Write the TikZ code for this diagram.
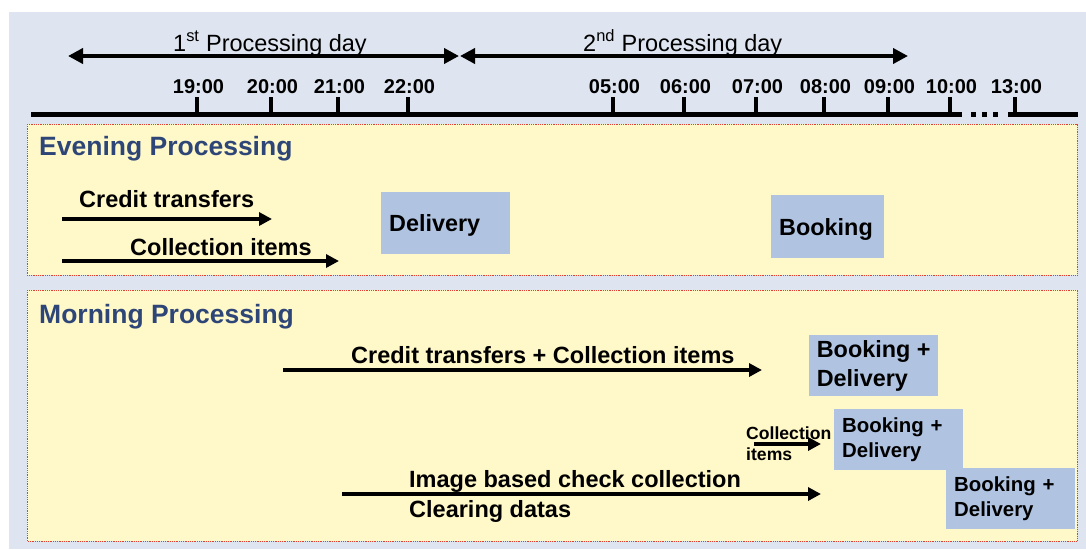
\documentclass[tikz,border=0pt]{standalone}
\usepackage{fontspec}
\setmainfont{Liberation Sans}
\usetikzlibrary{arrows.meta}
\definecolor{bgblue}{HTML}{DEE5F0}
\definecolor{panelyellow}{HTML}{FFF8C8}
\definecolor{boxblue}{HTML}{B0C4E2}
\definecolor{titleblue}{HTML}{2D4677}
\definecolor{dotred}{HTML}{E04030}
\begin{document}
\begin{tikzpicture}[x=1pt,y=-1pt,
  flow/.style={line width=4pt,-{Triangle[length=13pt,width=13pt]}},
  dayarrow/.style={line width=4.5pt,{Triangle[length=15pt,width=15pt]}-{Triangle[length=15pt,width=15pt]}},
  panelbox/.style={fill=panelyellow,draw=dotred,line width=0.8pt,densely dotted},
  tickmark/.style={line width=4.5pt},
  timelbl/.style={font=\fontsize{20}{24}\selectfont\bfseries,inner sep=0pt,anchor=base},
  daylbl/.style={font=\fontsize{23.5}{28}\selectfont,inner sep=0pt,anchor=base west},
  paneltitle/.style={font=\fontsize{26.5}{32}\selectfont\bfseries,text=titleblue,inner sep=0pt,anchor=base west},
  lbl/.style={font=\fontsize{23.5}{30}\selectfont\bfseries,inner sep=0pt,align=left},
  procbox/.style={fill=boxblue,anchor=north west,align=left,inner xsep=8pt,inner ysep=0pt,minimum height=61pt},
  bigbox/.style={procbox,font=\fontsize{23.4}{29}\selectfont\bfseries,inner xsep=0pt,minimum width=129pt},
  smallbox/.style={procbox,font=\fontsize{20.4}{25}\selectfont\bfseries,text width=113pt}
]
\useasboundingbox (0,0) rectangle (1086,549);
\fill[white] (0,0) rectangle (1086,549);
\fill[bgblue] (9,12) rectangle (1086,549);

% processing day arrows
\coordinate (d1l) at (68,56);
\coordinate (d1r) at (459,56);
\coordinate (d2l) at (460,56);
\coordinate (d2r) at (908,56);
\draw[dayarrow] (d1l) -- (d1r);
\draw[dayarrow] (d2l) -- (d2r);
\node[daylbl] (day1) at (173,51) {1\textsuperscript{st} Processing day};
\node[daylbl] (day2) at (583,51) {2\textsuperscript{nd} Processing day};

% timeline
\coordinate (tl0) at (31,114);
\coordinate (tl1) at (962,114);
\coordinate (tl2) at (1008,114);
\coordinate (tl3) at (1078,114);
\draw[line width=5pt] (tl0) -- (tl1);
\draw[line width=5pt] (tl2) -- (tl3);
\foreach \dx in {973,984,995} \fill (\dx-2.5,111.5) rectangle (\dx+2.5,116.5);
\foreach \tx/\lab/\nm in {197/19:00/t19,271/20:00/t20,338/21:00/t21,408/22:00/t22,613/05:00/t05,684/06:00/t06,756/07:00/t07,824/08:00/t08,888/09:00/t09,950/10:00/t10,1015/13:00/t13}{
  \draw[tickmark] (\tx,97) -- (\tx,114);
  \node[timelbl] (\nm) at (\tx+1.5,93) {\lab};
}

% evening panel
\draw[panelbox] (27,124) rectangle (1077,275);
\node[paneltitle] (evt) at (39,155) {Evening Processing};
\coordinate (ec1s) at (62,219);
\coordinate (ec1e) at (272,219);
\draw[flow] (ec1s) -- (ec1e);
\node[lbl,anchor=base west] (ectl) at (79,207) {Credit transfers};
\coordinate (ec2s) at (62,261);
\coordinate (ec2e) at (339,261);
\draw[flow] (ec2s) -- (ec2e);
\node[lbl,anchor=base west] (ecil) at (130,255) {Collection items};
\node[procbox,font=\fontsize{23.4}{29}\selectfont\bfseries,text width=113pt,minimum height=62pt,text depth=0pt] (edel) at (381,192) {Delivery};
\node[procbox,font=\fontsize{23.4}{29}\selectfont\bfseries,text width=97pt,minimum height=63pt,text depth=0pt] (ebook) at (771,195) {Booking};

% morning panel
\draw[panelbox] (27,290) rectangle (1077,541);
\node[paneltitle] (mot) at (39,323) {Morning Processing};
\coordinate (m1s) at (283,370);
\coordinate (m1e) at (762,370);
\draw[flow] (m1s) -- (m1e);
\node[lbl,anchor=base west] (m1l) at (351,363) {Credit transfers + Collection items};
\node[bigbox] (mb1) at (809,335) {Booking +\\Delivery};

\coordinate (m2s) at (754,444);
\coordinate (m2e) at (821,444);
\draw[flow] (m2s) -- (m2e);
\node[font=\fontsize{17.6}{21}\selectfont\bfseries,inner sep=0pt,align=left,anchor=north west] (m2l) at (746,426.2) {Collection\\items};
\node[smallbox] (mb2) at (834,409) {Booking +\\Delivery};

\coordinate (m3s) at (342,494);
\coordinate (m3e) at (821,494);
\draw[flow] (m3s) -- (m3e);
\node[lbl,anchor=north west] (m3l) at (409,469.9) {Image based check collection\\Clearing datas};
\node[smallbox] (mb3) at (946,468) {Booking +\\Delivery};
\end{tikzpicture}
\end{document}
